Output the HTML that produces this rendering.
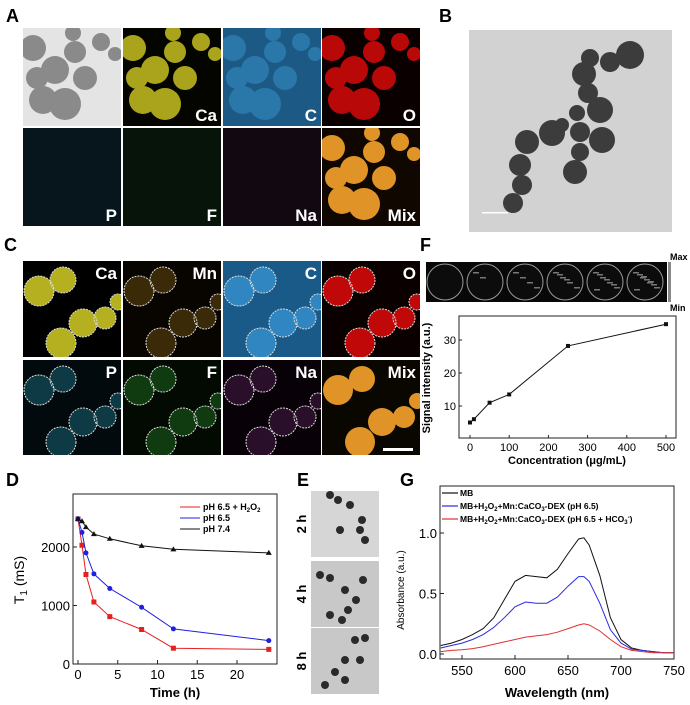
<!DOCTYPE html>
<html><head><meta charset="utf-8"><style>
body{margin:0;background:#fff}
svg{display:block;font-family:"Liberation Sans",sans-serif}
</style></head><body>
<svg id="fig" width="690" height="705" viewBox="0 0 690 705" xmlns="http://www.w3.org/2000/svg">
<defs id="defs"></defs>
<text x="6" y="22" font-size="18" font-weight="bold">A</text>
<text x="4" y="251" font-size="18" font-weight="bold">C</text>
<text x="420" y="251" font-size="18" font-weight="bold">F</text>
<text x="6" y="486" font-size="18" font-weight="bold">D</text>
<text x="297" y="486" font-size="18" font-weight="bold">E</text>
<text x="400" y="486" font-size="18" font-weight="bold">G</text>
<g id="tiles"></g>
<g id="tem">
<rect x="469" y="30" width="203" height="202" fill="#d2d2d2"/>
</g>
<text x="439" y="22" font-size="18" font-weight="bold">B</text>
<g id="eimgs"></g>
<g id="chartD"></g><g id="chartF"></g><g id="chartG"></g>
</svg>
<script>
// Panel D data
const dTimes=[0,0.5,1,2,4,8,12,24];
const dRed=[2480,2030,1530,1060,810,590,270,250];
const dBlue=[2480,2250,1900,1540,1290,970,600,400];
const dBlack=[2480,2440,2340,2220,2140,2020,1960,1900];
const dXTicks=[0,5,10,15,20];
const dYTicks=[0,1000,2000];
// Panel F data
const fConc=[0,10,50,100,250,500];
const fSignal=[5,6,11,13.5,28.2,34.8];
const fXTicks=[0,100,200,300,400,500];
const fYTicks=[10,20,30];
// Panel G data
const gWave=[530,540,550,560,570,580,590,600,610,620,630,640,650,660,665,670,680,690,700,710,720,730,740,750];
const gMB=[0.07,0.09,0.12,0.16,0.21,0.30,0.45,0.60,0.65,0.64,0.63,0.70,0.83,0.95,0.96,0.90,0.65,0.30,0.12,0.05,0.03,0.02,0.01,0.01];
const gBlue=[0.05,0.07,0.09,0.12,0.16,0.22,0.30,0.39,0.43,0.42,0.42,0.47,0.56,0.64,0.64,0.60,0.42,0.20,0.09,0.04,0.03,0.02,0.01,0.01];
const gRed=[0.02,0.03,0.035,0.045,0.06,0.08,0.10,0.12,0.14,0.15,0.16,0.18,0.21,0.24,0.25,0.24,0.19,0.12,0.06,0.03,0.02,0.01,0.01,0.01];
const gXTicks=[550,600,650,700,750];
const gYTicks=[0,0.5,1.0];

const NS="http://www.w3.org/2000/svg";
function mk(tag,attrs,parent){const e=document.createElementNS(NS,tag);for(const k in attrs)e.setAttribute(k,attrs[k]);parent.appendChild(e);return e;}

// ---- Tiles A and C ----
const tiles=document.getElementById('tiles');
const defs=document.getElementById('defs');
const blobsA=[[10,20,13],[32,42,14],[52,24,11],[20,72,14],[42,76,16],[62,50,12],[78,14,9],[92,26,7],[14,50,11],[50,5,8]];
const blobsC=[[16,30,15],[40,19,13],[60,62,14],[82,57,11],[95,41,8],[38,82,15]];
let cid=0;
function tile(x,y,w,h,bg,fg,blobs,label,ly,outline,name){
  const cp=mk('clipPath',{id:'cp'+cid},defs);
  mk('rect',{x:x,y:y,width:w,height:h},cp);
  const g=mk('g',{'clip-path':'url(#cp'+cid+')'},tiles);
  cid++;
  
  
  mk('rect',{x:x,y:y,width:w,height:h,fill:bg},g);
  if(fg){blobs.forEach(b=>{mk('circle',{cx:x+b[0],cy:y+b[1],r:b[2],fill:fg},g);});}
  if(outline){blobs.forEach(b=>{mk('circle',{cx:x+b[0],cy:y+b[1],r:b[2],fill:'none',stroke:'#ddd','stroke-width':1,'stroke-dasharray':'2,1'},g);});}
  if(label){const t=mk('text',{x:x+w-4,y:y+ly,'text-anchor':'end','font-size':17,'font-weight':'bold',fill:'#fff'},g);t.textContent=label;}
}
const ax=[23,123,223,322], aw=98;
tile(ax[0],28,aw,98,'#e4e4e4','#8a8a8a',blobsA,'',0,false,'tem-tile');
tile(ax[1],28,aw,98,'#050500','#aaa41c',blobsA,'Ca',93,false,'ca-map-a');
tile(ax[2],28,aw,98,'#1c5a85','#2a78aa',blobsA,'C',93,false,'c-map-a');
tile(ax[3],28,aw,98,'#0a0000','#b80808',blobsA,'O',93,false,'o-map-a');
tile(ax[0],128,aw,98,'#06161c',null,blobsA,'P',93,false,'p-map-a');
tile(ax[1],128,aw,98,'#06140a',null,blobsA,'F',93,false,'f-map-a');
tile(ax[2],128,aw,98,'#120812',null,blobsA,'Na',93,false,'na-map-a');
tile(ax[3],128,aw,98,'#100800','#e09428',blobsA,'Mix',93,false,'mix-map-a');
tile(ax[0],261,aw,96,'#000','#b4b020',blobsC,'Ca',18,true,'ca-map-c');
tile(ax[1],261,aw,96,'#080400','#3a2a08',blobsC,'Mn',18,true,'mn-map-c');
tile(ax[2],261,aw,96,'#1a5a88','#2f86c0',blobsC,'C',18,true,'c-map-c');
tile(ax[3],261,aw,96,'#0a0000','#c00808',blobsC,'O',18,true,'o-map-c');
tile(ax[0],360,aw,95,'#020a0e','#0d3a44',blobsC,'P',18,true,'p-map-c');
tile(ax[1],360,aw,95,'#020a02','#103a10',blobsC,'F',18,true,'f-map-c');
tile(ax[2],360,aw,95,'#080208','#2a0f2a',blobsC,'Na',18,true,'na-map-c');
tile(ax[3],360,aw,95,'#0a0600','#e09428',blobsC,'Mix',18,false,'mix-map-c');
const sb=mk('rect',{x:383,y:448,width:30,height:3,fill:'#fff'},tiles);



// TEM B particles
const tem=document.getElementById('tem');
[[630,55,14],[610,62,10],[590,58,9],[584,74,12],[588,93,10],[600,110,13],[577,113,8],[580,132,10],[602,140,13],[580,152,9],[575,172,12],[552,133,13],[562,125,7],[527,142,12],[520,165,11],[522,185,10],[513,203,10]].forEach(p=>mk('circle',{cx:p[0],cy:p[1],r:p[2],fill:'#3c3c3c'},tem));
mk('rect',{x:482,y:212,width:26,height:1.5,fill:'#fff'},tem);

// E images
const eg=document.getElementById('eimgs');
[['2 h',491,'tem-2h'],['4 h',561,'tem-4h'],['8 h',628,'tem-8h']].forEach((r,i)=>{
  const g=mk('g',{},eg);
  
  
  mk('rect',{x:311,y:r[1],width:68,height:66,fill:i==0?'#d6d6d6':'#c8c8c8'},g);
  const pts=i==0?[[338,500],[350,505],[362,520],[360,530],[365,540],[340,530],[330,495]]:i==1?[[320,575],[330,578],[345,590],[356,600],[348,610],[342,620],[330,615],[363,580]]:[[355,640],[365,638],[345,660],[360,660],[335,672],[325,685],[345,680]];
  pts.forEach(p=>mk('circle',{cx:p[0],cy:p[1],r:4,fill:'#2a2a2a'},g));
  const t=mk('text',{x:306,y:r[1]+33,'font-size':13,'font-weight':'bold',transform:`rotate(-90 306 ${r[1]+33})`,'text-anchor':'middle'},g);
  t.textContent=r[0];
});

function linear(d0,d1,r0,r1){return v=>r0+(v-d0)*(r1-r0)/(d1-d0);}
function frame(g,x0,y0,x1,y1){mk('rect',{x:x0,y:y0,width:x1-x0,height:y1-y0,fill:'none',stroke:'#222','stroke-width':1},g);}
function path(xs,ys,sx,sy){return xs.map((v,i)=>(i?'L':'M')+sx(v).toFixed(1)+','+sy(ys[i]).toFixed(1)).join('');}

// ---- Chart D ----
(function(){
const g=document.getElementById('chartD');


const sx=linear(0,20,78,237), sy=linear(0,2000,664,547);
frame(g,73,494,277,664);
dXTicks.forEach(t=>{mk('line',{x1:sx(t),x2:sx(t),y1:664,y2:660,stroke:'#222'},g);const e=mk('text',{x:sx(t),y:679,'text-anchor':'middle','font-size':13},g);e.textContent=t;});
dYTicks.forEach(t=>{mk('line',{x1:73,x2:77,y1:sy(t),y2:sy(t),stroke:'#222'},g);const e=mk('text',{x:70,y:sy(t)+5,'text-anchor':'end','font-size':13},g);e.textContent=t;});
const xt=mk('text',{x:175,y:697,'text-anchor':'middle','font-size':13,'font-weight':'bold'},g);xt.textContent='Time (h)';

const yt=mk('text',{x:24,y:580,'text-anchor':'middle','font-size':14,transform:'rotate(-90 24 580)'},g);yt.innerHTML='T<tspan font-size="10" dy="3">1</tspan><tspan dy="-3"> (mS)</tspan>';

[[dRed,'#e52020','square'],[dBlue,'#2020e0','circle'],[dBlack,'#111','tri']].forEach((s,k)=>{
  const p=mk('path',{d:path(dTimes,s[0],sx,sy),fill:'none',stroke:s[1],'stroke-width':1},g);
  
  dTimes.forEach((t,i)=>{let m;const x=sx(t),y=sy(s[0][i]);
    if(s[2]=='square')m=mk('rect',{x:x-2.5,y:y-2.5,width:5,height:5,fill:s[1]},g);
    else if(s[2]=='circle')m=mk('circle',{cx:x,cy:y,r:2.5,fill:s[1]},g);
    else m=mk('path',{d:`M${x-3},${y+2}L${x+3},${y+2}L${x},${y-3}Z`,fill:s[1]},g);
    });
});
const leg=[['#e52020','pH 6.5 + H<tspan font-size="6" dy="2">2</tspan><tspan dy="-2">O</tspan><tspan font-size="6" dy="2">2</tspan>'],['#2020e0','pH 6.5'],['#111','pH 7.4']];
leg.forEach((l,i)=>{const y=507+i*11;mk('line',{x1:180,x2:200,y1:y,y2:y,stroke:l[0]},g);
 const t=mk('text',{x:203,y:y+3,'font-size':9,'font-weight':'bold'},g);t.innerHTML=l[1];
 });
})();

// ---- Chart F ----
(function(){
const g=document.getElementById('chartF');


const strip=mk('rect',{x:426,y:262,width:241,height:40,fill:'#080808'},g);

for(let i=0;i<6;i++){mk('circle',{cx:445+i*40,cy:282,r:18,fill:'#0c0c0c',stroke:'#999','stroke-width':1},g);
 for(let j=0;j<i*2;j++)mk('rect',{x:433+i*40+(j*7)%24,y:272+(j*5)%18,width:6,height:1.5,fill:'#777'},g);}
mk('rect',{x:668,y:262,width:3,height:40,fill:'#888'},g);
let t=mk('text',{x:670,y:260,'font-size':9,'font-weight':'bold'},g);t.textContent='Max';
t=mk('text',{x:670,y:311,'font-size':9,'font-weight':'bold'},g);t.textContent='Min';
const sx=linear(0,500,470,666), sy=linear(10,30,406,340);
frame(g,459,316,676,438);
fXTicks.forEach(v=>{mk('line',{x1:sx(v),x2:sx(v),y1:438,y2:435,stroke:'#222'},g);const e=mk('text',{x:sx(v),y:451,'text-anchor':'middle','font-size':11},g);e.textContent=v;});
fYTicks.forEach(v=>{mk('line',{x1:459,x2:462,y1:sy(v),y2:sy(v),stroke:'#222'},g);const e=mk('text',{x:456,y:sy(v)+4,'text-anchor':'end','font-size':11},g);e.textContent=v;});
const xt=mk('text',{x:567,y:464,'text-anchor':'middle','font-size':11,'font-weight':'bold'},g);xt.textContent='Concentration (\u03bcg/mL)';

const yt=mk('text',{x:430,y:378,'text-anchor':'middle','font-size':11,'font-weight':'bold',transform:'rotate(-90 430 378)'},g);yt.textContent='Signal intensity (a.u.)';

const p=mk('path',{d:path(fConc,fSignal,sx,sy),fill:'none',stroke:'#111','stroke-width':1},g);

fConc.forEach((c,i)=>{const m=mk('rect',{x:sx(c)-2,y:sy(fSignal[i])-2,width:4,height:4,fill:'#111'},g);
 });
})();

// ---- Chart G ----
(function(){
const g=document.getElementById('chartG');


const sx=linear(550,750,462,674), sy=linear(0,1,654,533);
frame(g,440,486,674,659);
gXTicks.forEach(v=>{mk('line',{x1:sx(v),x2:sx(v),y1:659,y2:655,stroke:'#222'},g);const e=mk('text',{x:sx(v),y:675,'text-anchor':'middle','font-size':13},g);e.textContent=v;});
gYTicks.forEach(v=>{mk('line',{x1:440,x2:444,y1:sy(v),y2:sy(v),stroke:'#222'},g);const e=mk('text',{x:437,y:sy(v)+5,'text-anchor':'end','font-size':13},g);e.textContent=v.toFixed(1);});
const xt=mk('text',{x:557,y:697,'text-anchor':'middle','font-size':13,'font-weight':'bold'},g);xt.textContent='Wavelength (nm)';

const yt=mk('text',{x:404,y:590,'text-anchor':'middle','font-size':10,transform:'rotate(-90 404 590)'},g);yt.textContent='Absorbance (a.u.)';

[[gMB,'#111'],[gBlue,'#2a2ae0'],[gRed,'#e03030']].forEach((s,k)=>{const p=mk('path',{d:path(gWave,s[0],sx,sy),fill:'none',stroke:s[1],'stroke-width':1},g);
 });
const leg=[['#111','MB'],['#2a2ae0','MB+H<tspan font-size="6" dy="2">2</tspan><tspan dy="-2">O</tspan><tspan font-size="6" dy="2">2</tspan><tspan dy="-2">+Mn:CaCO</tspan><tspan font-size="6" dy="2">3</tspan><tspan dy="-2">-DEX (pH 6.5)</tspan>'],['#e03030','MB+H<tspan font-size="6" dy="2">2</tspan><tspan dy="-2">O</tspan><tspan font-size="6" dy="2">2</tspan><tspan dy="-2">+Mn:CaCO</tspan><tspan font-size="6" dy="2">3</tspan><tspan dy="-2">-DEX (pH 6.5 + HCO</tspan><tspan font-size="6" dy="2">3</tspan><tspan font-size="6" dy="-5">-</tspan><tspan dy="3">)</tspan>']];
leg.forEach((l,i)=>{const y=493+i*13;mk('line',{x1:442,x2:458,y1:y,y2:y,stroke:l[0],'stroke-width':1.2},g);
 const t=mk('text',{x:460,y:y+3,'font-size':8.5,'font-weight':'bold'},g);t.innerHTML=l[1];
 });
})();
</script>
</body></html>
